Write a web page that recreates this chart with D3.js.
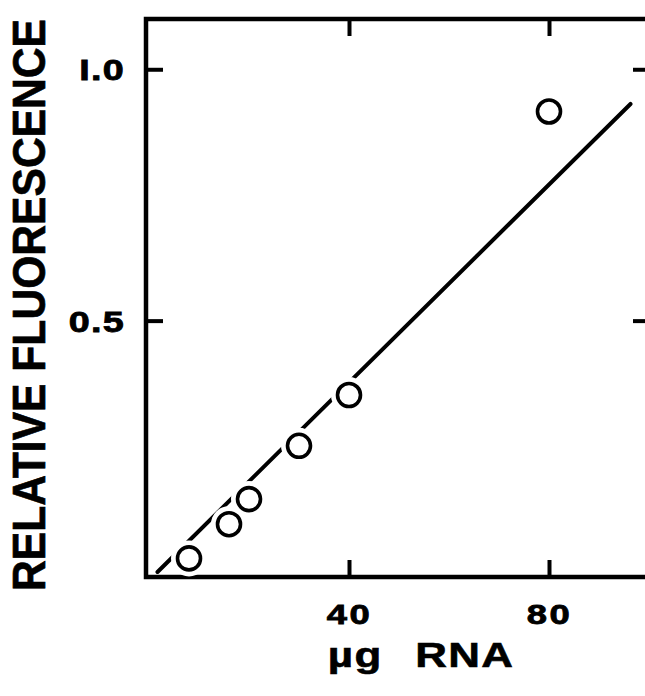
<!DOCTYPE html>
<html>
<head>
<meta charset="utf-8">
<script src="https://cdn.jsdelivr.net/npm/d3@7/dist/d3.min.js"></script>
<style>
  html, body { margin: 0; padding: 0; background: #fff; }
  svg { display: block; }
  text { font-family: "Liberation Sans", Arial, sans-serif; font-weight: bold; fill: #000; }
</style>
</head>
<body>
<svg id="chart" width="645" height="696"></svg>
<script>
// Measured points: µg RNA vs relative fluorescence
const rnaUg = [8, 16, 20, 30, 40, 80];
const fluorescence = [0.027, 0.095, 0.145, 0.251, 0.352, 0.916];

// Fitted straight line (end points)
const fitX = [1.7, 96.3];
const fitY = [0.0, 0.931];

// Tick values and labels
const xTicks = [40, 80];
const xTickLabels = ["40", "80"];
const yTicks = [0.5, 1.0];
const yTickLabels = ["0.5", "I.0"];

const xTitle = "µg RNA";
const yTitle = "RELATIVE FLUORESCENCE";

const svg = d3.select("#chart");

const x = d3.scaleLinear().domain([-0.6, 100.2]).range([146, 650]);
const y = d3.scaleLinear().domain([-0.01, 1.1]).range([577, 19]);

const ink = "#000";
const frameW = 4.5;
const tickLen = 17;
const wide = 1.3; // horizontal stretch for the wide lettering

// Frame
svg.append("rect")
  .attr("x", x.range()[0]).attr("y", y.range()[1])
  .attr("width", x.range()[1] - x.range()[0])
  .attr("height", y.range()[0] - y.range()[1])
  .attr("fill", "none").attr("stroke", ink).attr("stroke-width", frameW);

// Axes with inward ticks
function styleAxis(g) {
  g.select(".domain").remove();
  g.selectAll(".tick line").attr("stroke", ink).attr("stroke-width", 4);
}

const bottom = svg.append("g")
  .attr("transform", `translate(0,${y.range()[0]})`)
  .call(d3.axisBottom(x).tickValues(xTicks).tickSize(-tickLen).tickSizeOuter(0)
    .tickFormat((d, i) => xTickLabels[i]))
  .call(styleAxis);
bottom.selectAll(".tick text")
  .attr("x", 0).attr("y", 47).attr("dy", 0)
  .attr("transform", `scale(${wide},1)`)
  .style("font-size", "28px").style("letter-spacing", "2px")
  .attr("fill", ink).attr("stroke", ink).attr("stroke-width", 0.8);

svg.append("g")
  .attr("transform", `translate(0,${y.range()[1]})`)
  .call(d3.axisTop(x).tickValues(xTicks).tickSize(-tickLen).tickSizeOuter(0).tickFormat(""))
  .call(styleAxis);

const left = svg.append("g")
  .attr("transform", `translate(${x.range()[0]},0)`)
  .call(d3.axisLeft(y).tickValues(yTicks).tickSize(-tickLen).tickSizeOuter(0)
    .tickFormat((d, i) => yTickLabels[i]))
  .call(styleAxis);
left.selectAll(".tick text")
  .attr("x", -21 / wide).attr("dy", "0.36em")
  .attr("transform", `scale(${wide},1)`)
  .style("font-size", "29px").style("letter-spacing", "1px")
  .attr("fill", ink).attr("stroke", ink).attr("stroke-width", 0.8);

svg.append("g")
  .attr("transform", `translate(${x.range()[1]},0)`)
  .call(d3.axisRight(y).tickValues(yTicks).tickSize(-tickLen).tickSizeOuter(0).tickFormat(""))
  .call(styleAxis);

// Fitted line
const lineData = fitX.map((d, i) => [d, fitY[i]]);
svg.append("path")
  .datum(lineData)
  .attr("d", d3.line().x(d => x(d[0])).y(d => y(d[1])))
  .attr("fill", "none").attr("stroke", ink).attr("stroke-width", 4)
  .attr("stroke-linecap", "round");

// White halos break the line around each symbol
const pts = rnaUg.map((d, i) => ({ x: d, y: fluorescence[i] }));
svg.append("g").selectAll("circle")
  .data(pts).join("circle")
  .attr("cx", d => x(d.x)).attr("cy", d => y(d.y))
  .attr("r", 18).attr("fill", "#fff");

// Open circle symbols
svg.append("g").selectAll("circle")
  .data(pts).join("circle")
  .attr("cx", d => x(d.x)).attr("cy", d => y(d.y))
  .attr("r", 11.5).attr("fill", "none")
  .attr("stroke", ink).attr("stroke-width", 3.6);

// Axis titles
svg.append("text")
  .attr("transform", `translate(421,667) scale(1.22,1)`)
  .attr("text-anchor", "middle")
  .attr("stroke", ink).attr("stroke-width", 0.6)
  .style("font-size", "36px").style("word-spacing", "16px").style("letter-spacing", "1px")
  .text(xTitle);

svg.append("text")
  .attr("transform", "translate(45,305) rotate(-90) scale(1,1.1)")
  .attr("text-anchor", "middle")
  .attr("textLength", 572).attr("lengthAdjust", "spacingAndGlyphs")
  .attr("stroke", ink).attr("stroke-width", 0.6)
  .style("font-size", "42px")
  .text(yTitle);
</script>
</body>
</html>
